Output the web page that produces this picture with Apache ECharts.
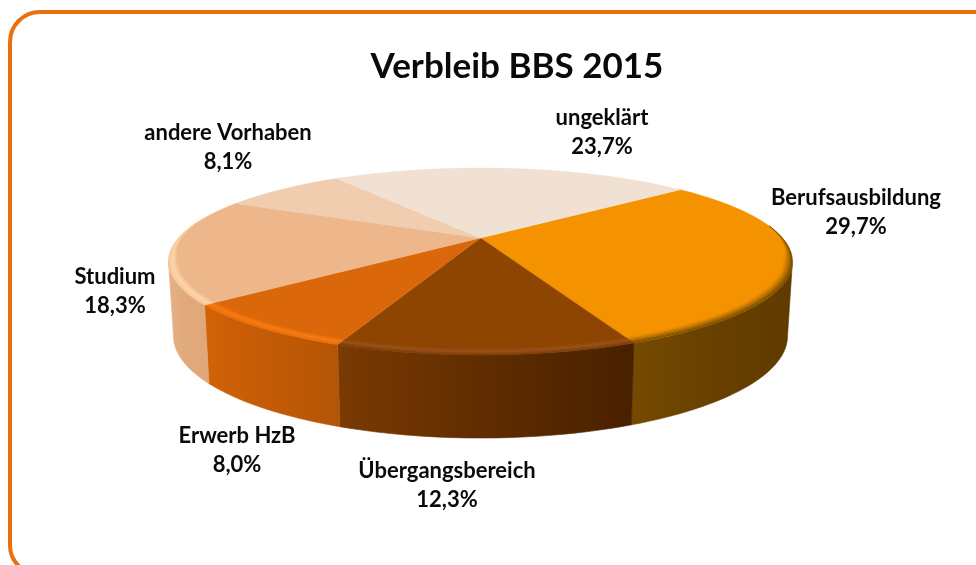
<!DOCTYPE html>
<html>
<head>
<meta charset="utf-8">
<style>
  html, body { margin: 0; padding: 0; background: #fff; }
  #chart { width: 976px; height: 565px; }
</style>
<script src="https://cdn.jsdelivr.net/npm/echarts@6/dist/echarts.min.js"></script>
</head>
<body>
<div id="chart"></div>
<script>
// data
const categories = ['Berufsausbildung', 'Übergangsbereich', 'Erwerb HzB', 'Studium', 'andere Vorhaben', 'ungeklärt']
const shares = [29.7, 12.3, 8.0, 18.3, 8.1, 23.7]

// colours per slice
const topColors = ['#f49200', '#8f4502', '#da680a', '#eeb78b', '#efcdae', '#f1e1d3']
const wallColors = [
  ['#754a00', '#694100', '#603b00'],
  ['#7a3a03', '#622e00', '#482000'],
  ['#d26206', '#c45b06', '#b35506'],
  ['#e6b186', '#e0a97c', '#dfa77a'],
  ['#efcdae', '#efcdae', '#efcdae'],
  ['#f1e1d3', '#f1e1d3', '#f1e1d3']
]
const bevelColors = [
  ['#f49200', '#b87300', '#6f4700'],
  ['#8f4502', '#9a5420', '#7a3c05'],
  ['#da680a', '#ff7e12', '#e8700c'],
  ['#eeb78b', '#ffd8aa', '#f6ca9a'],
  ['#efcdae', '#efcdae', '#efcdae'],
  ['#f1e1d3', '#f1e1d3', '#f1e1d3']
]
// label centres on the page
const labelPos = [[856, 212], [447, 485], [237, 450], [115, 291], [228, 147], [602, 132]]

// the tilted disc, top and bottom face
const persp = 0.251
const topFace = { cx: 480.5, cy: 238, rx: 302, ry: 87.6 }
const bottomFace = { cx: 480.5, cy: 310.4, rx: 297.2, ry: 95.6 }
const startDeg = -39.8
const total = shares.reduce((a, b) => a + b, 0)
const edgeDeg = Math.asin(persp) * 180 / Math.PI // where the outline turns

function project(face, deg, r) {
  const a = deg * Math.PI / 180
  const x = r * Math.cos(a)
  const y = r * Math.sin(a)
  const w = 1 - persp * y
  return [face.cx + face.rx * x / w, face.cy + face.ry * y / w]
}
function sliceRange(i) {
  let sum = 0
  for (let j = 0; j < i; j++) sum += shares[j]
  const a0 = startDeg + sum / total * 360
  return [a0, a0 + shares[i] / total * 360]
}
function arc(face, a0, a1, r) {
  const pts = []
  const n = Math.max(2, Math.ceil(Math.abs(a1 - a0) / 1.5))
  for (let k = 0; k <= n; k++) pts.push(project(face, a0 + (a1 - a0) * k / n, r))
  return pts
}

function renderWall(params) {
  const i = params.dataIndex
  const [s, e] = sliceRange(i)
  const a0 = Math.max(s, edgeDeg)
  const a1 = Math.min(e, 180 - edgeDeg)
  if (a1 <= a0) return { type: 'group', children: [] }
  const upper = arc(topFace, a0, a1, 1)
  const lower = arc(bottomFace, a0, a1, 1).reverse()
  const points = upper.concat(lower)
  const xs = points.map(p => p[0])
  const left = Math.min.apply(null, xs)
  const right = Math.max.apply(null, xs)
  const c = wallColors[i]
  const fill = new echarts.graphic.LinearGradient(left, 0, right, 0, [
    { offset: 0, color: c[0] }, { offset: 0.45, color: c[1] }, { offset: 1, color: c[2] }
  ], true)
  return { type: 'polygon', shape: { points: points }, style: { fill: fill, stroke: fill, lineWidth: 0.6 } }
}

function renderTop(params) {
  const i = params.dataIndex
  const [s, e] = sliceRange(i)
  const points = [project(topFace, 0, 0)].concat(arc(topFace, s, e, 1))
  return { type: 'polygon', shape: { points: points }, style: { fill: topColors[i], stroke: topColors[i], lineWidth: 0.4 } }
}

// rounded edge of the disc, a few thin rings going from the top colour to the highlight
function renderBevel(params) {
  const i = params.dataIndex
  const [s, e] = sliceRange(i)
  const a0 = Math.max(s, -8)
  const a1 = Math.min(e, 190)
  if (a1 <= a0) return { type: 'group', children: [] }
  const rings = 6
  const width = a => {
    const fade = Math.min(1, Math.min(a + 8, 190 - a) / 22)
    return (0.022 + 0.02 * Math.max(0, Math.sin(a * Math.PI / 180))) * fade
  }
  const ringAt = (a, f) => project(topFace, a, 1 - width(a) * f)
  const children = []
  for (let k = 0; k < rings; k++) {
    const pts = []
    const n = Math.ceil((a1 - a0) / 1.5)
    for (let m = 0; m <= n; m++) pts.push(ringAt(a0 + (a1 - a0) * m / n, 1 - k / rings))
    for (let m = n; m >= 0; m--) pts.push(ringAt(a0 + (a1 - a0) * m / n, 1 - (k + 1) / rings))
    const col = echarts.color.lerp((k + 0.5) / rings, bevelColors[i])
    children.push({ type: 'polygon', shape: { points: pts }, style: { fill: col, stroke: col, lineWidth: 0.3 } })
  }
  return { type: 'group', children: children }
}

function renderLabel(params, api) {
  const i = params.dataIndex
  const text = categories[i] + '\n' + api.value(0).toFixed(1).replace('.', ',') + '%'
  return {
    type: 'text',
    x: labelPos[i][0],
    y: labelPos[i][1],
    style: {
      text: text,
      fill: '#0a0a0a',
      font: 'bold 22px Lato',
      lineHeight: 29,
      align: 'center',
      verticalAlign: 'middle'
    }
  }
}

function customSeries(render, z) {
  return {
    type: 'custom',
    coordinateSystem: 'none',
    renderItem: render,
    data: shares.map(v => [v]),
    encode: { value: 0 },
    clip: false,
    silent: true,
    z: z
  }
}

const chart = echarts.init(document.getElementById('chart'), null, { renderer: 'canvas' })
chart.setOption({
  animation: false,
  backgroundColor: '#fff',
  title: {
    text: 'Verbleib BBS 2015',
    left: 512,
    top: 62,
    textAlign: 'center',
    textVerticalAlign: 'middle',
    textStyle: { fontFamily: 'Lato', fontWeight: 'bold', fontSize: 35, color: '#0a0a0a' }
  },
  graphic: [{
    type: 'rect',
    silent: true,
    z: -1,
    shape: { x: 10, y: 12, width: 1100, height: 563, r: 30 },
    style: { fill: '#fff', stroke: '#e8700f', lineWidth: 4 }
  }],
  series: [
    customSeries(renderWall, 1),
    customSeries(renderTop, 2),
    customSeries(renderBevel, 3),
    customSeries(renderLabel, 4)
  ]
})
</script>
</body>
</html>
